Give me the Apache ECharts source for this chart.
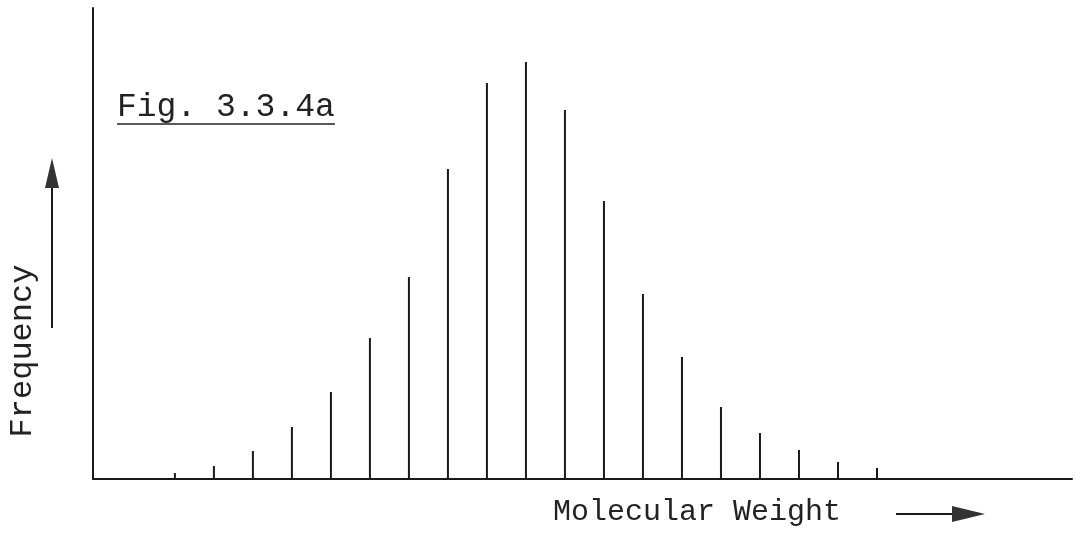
<!DOCTYPE html>
<html>
<head>
<meta charset="utf-8">
<script src="https://cdn.jsdelivr.net/npm/echarts@6/dist/echarts.min.js"></script>
<style>
  html, body { margin: 0; padding: 0; background: #fff; }
  #chart { width: 1075px; height: 536px; }
</style>
</head>
<body>
<div id="chart"></div>
<script>
// molecular weight steps (arbitrary units) and stick heights
const molWeight = [1, 2, 3, 4, 5, 6, 7, 8, 9, 10, 11, 12, 13, 14, 15, 16, 17, 18, 19]
const frequency = [6, 13, 28, 52, 87, 141, 202, 310, 396, 417, 369, 278, 185, 122, 72, 46, 29, 17, 11]

const ink = '#1a1a1a'
const mono = '"Liberation Mono", "DejaVu Sans Mono", monospace'

const chart = echarts.init(document.getElementById('chart'))
chart.setOption({
  animation: false,
  backgroundColor: '#fff',
  grid: { left: 93, right: 3, top: 8, bottom: 57 },
  xAxis: {
    type: 'value',
    min: -1.1,
    max: 24,
    axisLine: { show: true, onZero: false, lineStyle: { color: ink, width: 2 } },
    axisTick: { show: false },
    axisLabel: { show: false },
    splitLine: { show: false }
  },
  yAxis: {
    type: 'value',
    min: 0,
    max: 471,
    axisLine: { show: true, onZero: false, lineStyle: { color: ink, width: 2 } },
    axisTick: { show: false },
    axisLabel: { show: false },
    splitLine: { show: false }
  },
  series: [{
    type: 'bar',
    barWidth: 2,
    itemStyle: { color: ink },
    data: molWeight.map((m, i) => [m, frequency[i]])
  }],
  graphic: [
    {
      type: 'text', left: 117, top: 91,
      style: { text: 'Fig. 3.3.4a', font: '33px ' + mono, fill: '#222' }
    },
    {
      type: 'line',
      shape: { x1: 117, y1: 124, x2: 335, y2: 124 },
      style: { stroke: '#222', lineWidth: 1.5 }
    },
    {
      type: 'text', x: 23, y: 351, rotation: Math.PI / 2,
      style: { text: 'Frequency', font: '32px ' + mono, fill: '#222', align: 'center', verticalAlign: 'middle' }
    },
    {
      type: 'line',
      shape: { x1: 52, y1: 328, x2: 52, y2: 184 },
      style: { stroke: ink, lineWidth: 2 }
    },
    {
      type: 'polygon',
      shape: { points: [[52, 158], [45, 188], [59, 188]] },
      style: { fill: '#333' }
    },
    {
      type: 'text', left: 553, top: 497,
      style: { text: 'Molecular Weight', font: '30px ' + mono, fill: '#222' }
    },
    {
      type: 'line',
      shape: { x1: 896, y1: 514, x2: 956, y2: 514 },
      style: { stroke: ink, lineWidth: 2 }
    },
    {
      type: 'polygon',
      shape: { points: [[985, 514], [952, 506], [952, 522]] },
      style: { fill: '#333' }
    }
  ]
})
</script>
</body>
</html>
